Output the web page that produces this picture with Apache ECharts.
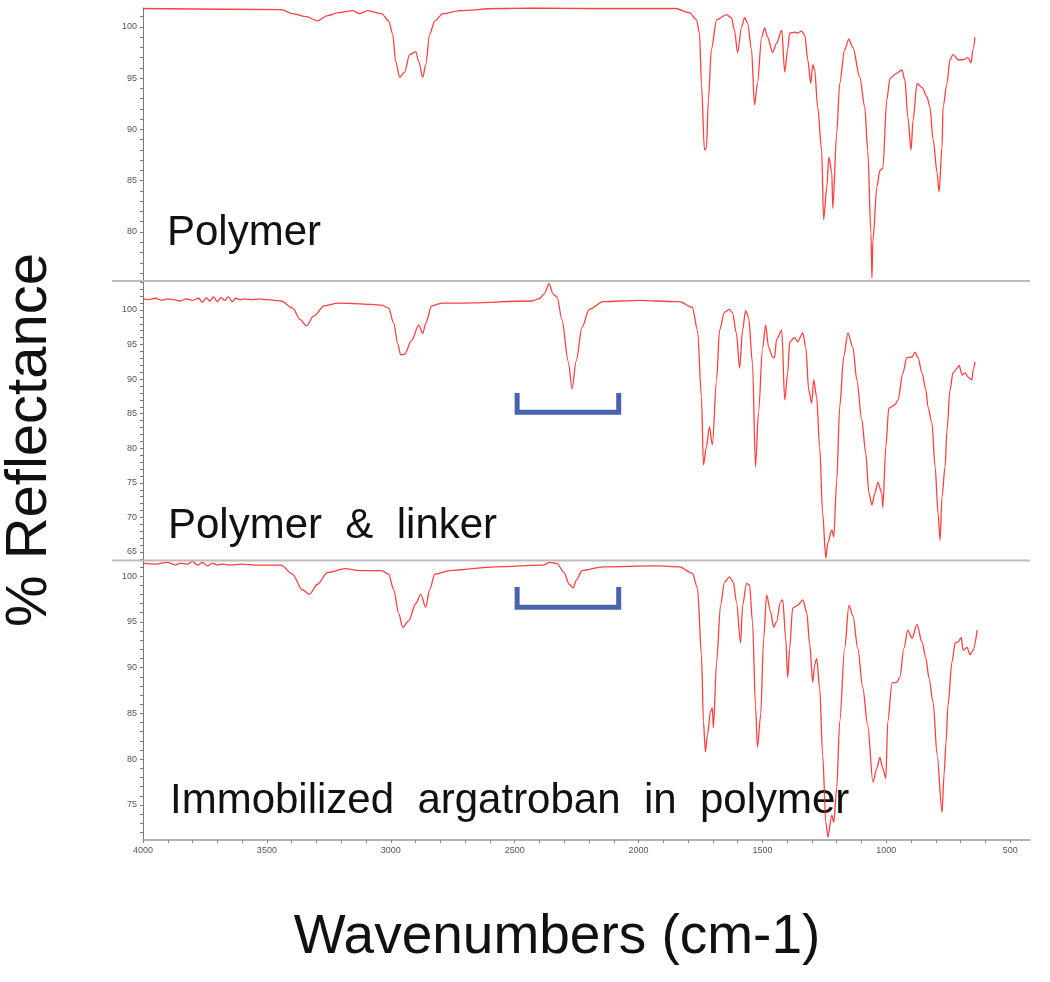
<!DOCTYPE html>
<html><head><meta charset="utf-8">
<script src="https://cdn.jsdelivr.net/npm/echarts@6/dist/echarts.min.js"></script>
<style>html,body{margin:0;padding:0;background:#fff}#c{width:1050px;height:982px}</style>
</head><body><div id="c"></div>
<script>
// ---------- data ----------
const xTickLabels = [4000, 3500, 3000, 2500, 2000, 1500, 1000, 500];
const panelLabels = ['Polymer', 'Polymer  &  linker', 'Immobilized  argatroban  in  polymer'];
const yLabelSets = [[80, 85, 90, 95, 100], [65, 70, 75, 80, 85, 90, 95, 100], [75, 80, 85, 90, 95, 100]];

const p1Wn = [4000,3442,3397,3340,3296,3255,3211,3154,3126,3094,3037,3009,2992,2980,2964,2944,2924,2899,2887,2871,2859,2843,2822,2790,2721,2576,2430,2200,2000,1851,1795,1766,1754,1746,1734,1726,1718,1706,1685,1645,1625,1613,1600,1584,1572,1560,1544,1532,1520,1503,1491,1479,1459,1443,1422,1410,1398,1390,1370,1358,1342,1329,1317,1305,1297,1289,1277,1261,1253,1240,1232,1220,1216,1200,1188,1168,1151,1135,1107,1087,1075,1062,1058,1054,1038,1026,1014,998,985,957,937,925,913,900,892,876,856,836,824,811,795,787,775,771,755,743,731,710,690,670,658,650,642];
const p1R = [101.8,101.7,101.3,101.0,100.6,101.1,101.4,101.6,101.3,101.6,101.3,100.6,99.3,96.6,95.1,95.6,97.3,97.6,96.6,95.1,96.3,99.3,100.6,101.3,101.6,101.8,101.85,101.8,101.8,101.8,101.4,100.7,99.4,94.4,88.0,88.2,92.9,97.8,100.7,101.2,100.9,99.7,97.5,100.0,100.9,100.4,97.8,92.4,94.5,99.0,99.9,99.0,97.5,98.4,99.7,95.6,97.8,99.4,99.5,99.4,99.6,99.2,96.8,94.5,96.3,95.8,92.2,88.0,81.2,84.4,87.3,85.8,82.3,89.7,94.5,97.8,98.8,98.0,95.1,92.2,88.0,79.9,75.5,79.2,84.4,86.0,86.2,92.9,95.0,95.5,95.8,94.8,91.2,88.0,90.9,94.5,94.1,93.2,92.2,89.0,85.8,83.9,88.3,92.2,94.5,96.8,97.3,96.8,96.8,97.0,96.5,97.8,99.0];

const p2Wn = [4000,3975,3950,3925,3900,3875,3850,3825,3800,3775,3760,3745,3730,3715,3700,3685,3670,3655,3640,3625,3610,3590,3560,3530,3500,3470,3442,3397,3365,3340,3312,3268,3211,3126,3037,3009,2988,2972,2960,2944,2916,2887,2871,2859,2835,2790,2721,2430,2402,2381,2361,2345,2329,2309,2284,2268,2252,2228,2199,2143,1997,1851,1835,1783,1762,1746,1738,1726,1714,1702,1685,1673,1653,1633,1621,1605,1592,1580,1568,1556,1540,1528,1516,1499,1487,1475,1459,1451,1443,1422,1410,1398,1390,1370,1358,1337,1325,1313,1301,1293,1281,1269,1257,1244,1236,1220,1212,1200,1188,1172,1155,1135,1119,1099,1083,1070,1058,1046,1034,1018,1014,1002,990,965,953,933,917,896,884,872,856,840,832,816,803,791,783,775,763,755,743,731,714,706,694,682,670,654,650,642];
const p2R = [101.6,101.5,101.7,101.4,101.6,101.5,101.3,101.6,101.4,101.7,101.1,101.8,101.3,101.9,101.2,101.8,101.4,101.9,101.2,101.7,101.5,101.6,101.5,101.6,101.5,101.4,101.3,100.3,98.6,97.7,99.1,100.6,101.0,100.9,100.7,100.3,98.1,95.1,93.5,93.6,95.6,97.8,96.6,98.1,100.6,101.0,101.0,101.3,101.6,102.3,103.8,102.3,101.9,98.6,92.6,88.6,92.6,97.5,100.1,101.2,101.4,101.2,101.2,100.4,97.1,87.4,77.6,80.2,83.1,80.5,89.9,97.1,99.7,100.1,99.6,96.7,91.6,97.1,99.9,99.0,92.3,77.3,85.1,94.6,97.8,94.6,93.2,93.1,95.7,97.1,87.0,90.9,95.4,96.0,95.4,96.7,94.6,88.4,86.5,89.9,87.4,80.2,70.6,64.1,66.3,68.2,67.2,75.4,86.0,93.2,96.7,94.6,89.9,84.1,79.3,73.5,71.8,73.5,75.1,73.5,71.4,80.2,85.8,86.3,87.0,90.9,93.1,93.2,93.9,93.1,90.9,88.4,86.0,83.7,77.3,70.6,66.7,73.0,77.3,82.6,88.4,90.9,91.6,92.0,90.6,90.9,90.3,89.9,91.3,92.5];

const p3Wn = [4000,3950,3900,3870,3850,3820,3800,3780,3760,3740,3720,3700,3680,3650,3600,3550,3500,3442,3397,3357,3328,3296,3255,3183,3126,3037,3009,2988,2968,2952,2928,2899,2879,2859,2843,2822,2762,2576,2385,2357,2329,2301,2280,2264,2252,2228,2143,1924,1835,1783,1762,1746,1738,1730,1722,1710,1702,1698,1685,1669,1653,1633,1617,1605,1588,1580,1564,1552,1540,1528,1520,1507,1495,1483,1467,1455,1443,1427,1418,1406,1398,1390,1378,1358,1337,1321,1309,1297,1289,1281,1269,1257,1244,1236,1220,1212,1200,1188,1168,1151,1135,1115,1095,1075,1054,1038,1026,1014,1002,994,977,957,945,929,913,896,876,856,840,828,811,795,775,767,759,751,735,722,710,698,690,674,662,650,633];
const p3R = [101.4,101.3,101.5,101.2,101.4,101.3,101.6,101.2,101.5,101.1,101.4,101.2,101.3,101.2,101.3,101.2,101.2,101.2,100.2,98.5,98.0,99.1,100.4,100.8,100.6,100.6,100.2,98.5,95.9,94.4,95.1,97.0,98.0,96.6,98.5,100.2,100.6,101.0,101.2,101.5,101.35,100.4,99.1,98.7,99.5,100.6,101.0,101.1,101.0,100.3,98.7,91.4,84.1,80.8,82.6,85.2,85.6,83.4,90.6,96.8,99.3,99.9,99.3,97.2,92.7,96.8,99.2,99.0,95.0,85.9,81.3,84.8,93.2,97.9,96.1,94.4,95.0,97.2,97.4,93.2,88.9,92.1,96.5,96.8,97.4,96.0,92.5,88.4,90.3,91.0,87.8,80.5,73.1,71.5,73.9,73.1,76.9,84.1,92.1,96.8,95.7,92.1,87.8,83.7,77.5,79.0,80.2,79.0,77.9,84.1,88.3,88.4,89.0,92.1,94.1,93.2,94.7,92.8,91.0,88.9,86.2,80.5,74.2,78.3,81.8,85.9,90.6,92.7,92.8,93.3,91.9,92.2,91.4,91.9,94.1];

const bracketWn = [2490, 2490, 2080, 2080];
const bracket2R = [88.0, 85.2, 85.2, 88.0];
const bracket3R = [98.8, 96.6, 96.6, 98.8];

// ---------- layout / styles ----------
const GRID_LEFT = 143, GRID_RIGHT = 20;
const panels = [
  { top: 8, height: 273, min: 75.22, max: 101.85 },
  { top: 282, height: 278, min: 63.84, max: 104.05 },
  { top: 561, height: 279, min: 71.18, max: 101.64 }
];
const X_MIN = 420, X_MAX = 4000;
const FONT = 'Liberation Sans, Arial, Helvetica, sans-serif';
const RED = 'rgba(255,30,30,0.85)';
const BLUE = '#4a63b0';

function zip(a, b) { return a.map((v, i) => [v, b[i]]); }
function range(a, b, s) { const r = []; for (let v = a; v <= b + 1e-9; v += s) r.push(v); return r; }

const grids = panels.map(p => ({ left: GRID_LEFT, right: GRID_RIGHT, top: p.top, height: p.height }));
const xAxes = panels.map((p, i) => ({
  type: 'value', gridIndex: i, min: X_MIN, max: X_MAX, inverse: true,
  splitLine: { show: false },
  axisLine: { show: i === 2, lineStyle: { color: '#9a9a9a', width: 1.5 } },
  axisTick: { show: i === 2, length: 3, lineStyle: { color: '#888' }, customValues: range(500, 4000, 100) },
  axisLabel: { show: i === 2, fontSize: 9, color: '#555', fontFamily: FONT, margin: 6,
    customValues: xTickLabels, formatter: v => String(v) }
}));
const yAxes = panels.map((p, i) => ({
  type: 'value', gridIndex: i, min: p.min, max: p.max,
  splitLine: { show: false },
  axisLine: { show: true, onZero: false, lineStyle: { color: '#7a7a7a', width: 1 } },
  axisTick: { show: true, length: 3, lineStyle: { color: '#777' },
    customValues: range(Math.ceil(p.min), Math.floor(p.max), 1) },
  axisLabel: { fontSize: 9, color: '#555', fontFamily: FONT, margin: 6, customValues: yLabelSets[i],
    formatter: v => String(v) }
}));

const lineBase = { type: 'line', showSymbol: false, symbol: 'none', smooth: 0.3, smoothMonotone: 'x',
  lineStyle: { color: RED, width: 1.3 }, silent: true, animation: false };
const series = [
  Object.assign({}, lineBase, { name: 'Polymer', xAxisIndex: 0, yAxisIndex: 0, data: zip(p1Wn, p1R) }),
  Object.assign({}, lineBase, { name: 'Polymer & linker', xAxisIndex: 1, yAxisIndex: 1, data: zip(p2Wn, p2R) }),
  Object.assign({}, lineBase, { name: 'Immobilized argatroban in polymer', xAxisIndex: 2, yAxisIndex: 2, data: zip(p3Wn, p3R) }),
  { type: 'line', xAxisIndex: 1, yAxisIndex: 1, data: zip(bracketWn, bracket2R), symbol: 'none', smooth: false,
    lineStyle: { color: BLUE, width: 5, cap: 'butt', join: 'miter' }, silent: true, animation: false, z: 3 },
  { type: 'line', xAxisIndex: 2, yAxisIndex: 2, data: zip(bracketWn, bracket3R), symbol: 'none', smooth: false,
    lineStyle: { color: BLUE, width: 5, cap: 'butt', join: 'miter' }, silent: true, animation: false, z: 3 }
];

const sepY = [panels[1].top - 1, panels[2].top - 0.5];
const graphic = [
  ...sepY.map(y => ({ type: 'line', shape: { x1: 112, y1: y, x2: 1050 - GRID_RIGHT, y2: y },
    style: { stroke: '#bdbdbd', lineWidth: 2 }, z: 10 })),
  { type: 'text', x: 167, y: 233, style: { text: panelLabels[0], font: '42px ' + FONT, fill: '#111', verticalAlign: 'middle' } },
  { type: 'text', x: 168, y: 526, style: { text: panelLabels[1], font: '42px ' + FONT, fill: '#111', verticalAlign: 'middle' } },
  { type: 'text', x: 170, y: 801, style: { text: panelLabels[2], font: '42px ' + FONT, fill: '#111', verticalAlign: 'middle' } },
  { type: 'text', x: 30, y: 440, rotation: Math.PI / 2,
    style: { text: '% Reflectance', font: '58px ' + FONT, fill: '#111', align: 'center', verticalAlign: 'middle' } },
  { type: 'text', x: 557, y: 938,
    style: { text: 'Wavenumbers (cm-1)', font: '55px ' + FONT, fill: '#111', align: 'center', verticalAlign: 'middle' } }
];

const chart = echarts.init(document.getElementById('c'), null, { renderer: 'canvas' });
chart.setOption({ animation: false, backgroundColor: '#fff', grid: grids, xAxis: xAxes, yAxis: yAxes, series, graphic });
</script>
</body></html>
